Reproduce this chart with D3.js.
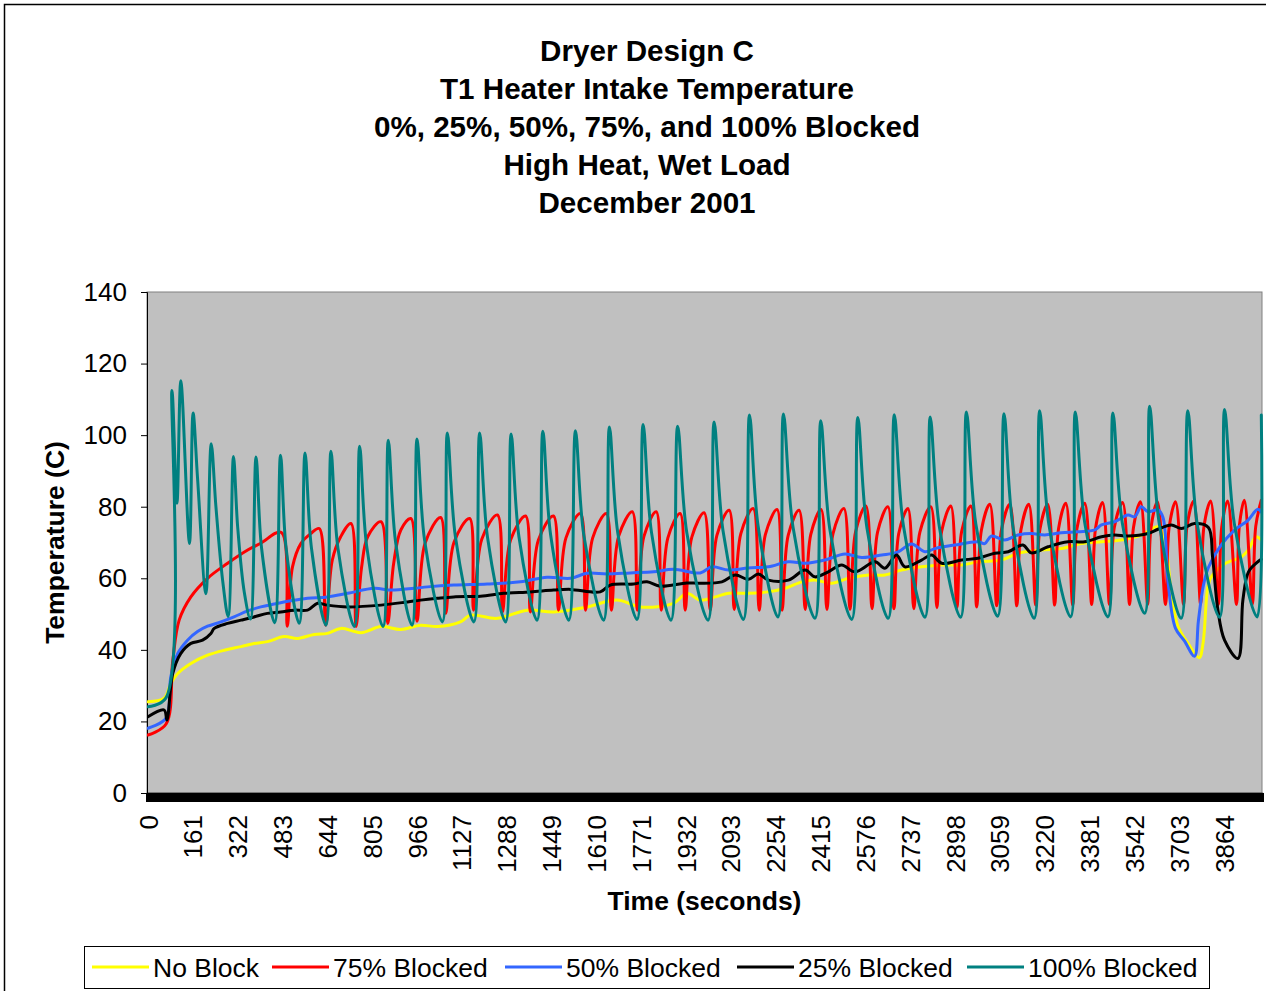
<!DOCTYPE html>
<html><head><meta charset="utf-8">
<script src="https://cdn.jsdelivr.net/npm/d3@7"></script>
<style>
body{margin:0;background:#fff}
svg{display:block}
text{font-family:"Liberation Sans",Arial,Helvetica,sans-serif;fill:#000}
</style>
</head><body>
<svg id="chart" width="1266" height="991"></svg>
<script>
// ---------- data ----------
const titleLines = ["Dryer Design C","T1 Heater Intake Temperature","0%, 25%, 50%, 75%, and 100% Blocked","High Heat, Wet Load","December 2001"];
const xTitle = "Time (seconds)";
const yTitle = "Temperature (C)";
const yTicks = [0,20,40,60,80,100,120,140];
const xTickLabels = [0,161,322,483,644,805,966,1127,1288,1449,1610,1771,1932,2093,2254,2415,2576,2737,2898,3059,3220,3381,3542,3703,3864];
const sampleStep = 7;      // seconds per category
const lastTime = 3997;
const seriesNames = ["No Block","75% Blocked","50% Blocked","25% Blocked","100% Blocked"];
const seriesColors = ["#FFFF00","#FF0000","#3366FF","#000000","#008080"];

// [time (s), temperature (C)]
const noBlock = [[0,25.5],[58,26.5],[82,30.6],[107,33.4],[154,36.2],[214,38.5],[274,39.9],[334,40.9],[381,41.8],[429,42.3],[489,43.7],[537,43.2],[597,44.3],[644,44.6],[693,46],[765,44.8],[837,46.5],[908,45.7],[979,46.9],[1039,46.5],[1122,47.8],[1158,49.7],[1254,48.8],[1362,51.1],[1457,50.6],[1577,52],[1684,53.9],[1768,52],[1887,53],[1935,55.8],[1983,53.9],[2037,54.8],[2085,55.8],[2156,55.8],[2228,56.2],[2288,57.2],[2348,59],[2395,59.5],[2455,58.6],[2515,60],[2587,60.9],[2646,60.9],[2706,62.3],[2778,63.2],[2850,63.7],[2922,63.7],[2981,64.6],[3065,65.1],[3124,67],[3208,67.9],[3280,68.3],[3352,69.7],[3424,70.2],[3495,70.7],[3567,72.1],[3627,74.4],[3651,70.7],[3675,55.8],[3699,46.5],[3735,41.8],[3775,37.8],[3789,42],[3806,57.6],[3819,60.5],[3866,64],[3927,66],[3952,68],[3979,71.6],[3998,70.7]];

const blocked75 = [[0,16.2],[65,19.3],[89,37],[112,48.3],[154,54.8],[214,60],[286,64.2],[358,67.9],[405,69.8],[479,72.8],[500,46.6],[519,63.2],[549,69.7],[585,72.5],[615,73.9],[638,46.9],[662,65.1],[692,71.6],[729,75.3],[747,46.5],[767,63],[789,71.6],[837,75.8],[861,47.4],[882,64],[908,73.5],[944,76.7],[966,48],[995,69.8],[1051,77],[1069,50.2],[1099,70.1],[1155,76.7],[1169,51.1],[1199,71],[1255,77.7],[1273,50.6],[1302,70.7],[1356,77.4],[1373,50.6],[1402,70.7],[1456,77.4],[1474,51.1],[1501,71.3],[1553,78.1],[1571,51.1],[1597,71.3],[1646,78.1],[1664,51.1],[1690,71.7],[1739,78.6],[1757,51.1],[1781,71.7],[1825,78.6],[1843,51.1],[1867,71.3],[1911,78.1],[1929,51.1],[1953,71.5],[1997,78.3],[2019,51.1],[2043,72],[2087,79],[2105,51.3],[2129,72.5],[2173,79.5],[2195,51.1],[2217,72.2],[2259,79.2],[2277,51.1],[2299,72],[2338,79],[2360,51.3],[2380,72.2],[2417,79.2],[2438,51.3],[2460,72.5],[2499,79.5],[2521,51.3],[2541,73],[2578,80.2],[2600,51.5],[2620,72.9],[2657,80],[2679,51.5],[2696,72.5],[2729,79.5],[2750,51.5],[2772,72.9],[2811,80],[2833,51.8],[2850,73.1],[2883,80.2],[2905,51.8],[2922,73.1],[2955,80.2],[2976,52],[2993,73.5],[3023,80.7],[3048,52.3],[3065,73.6],[3095,80.7],[3120,52.3],[3135,73.6],[3163,80.7],[3188,52.5],[3203,73.7],[3231,80.7],[3256,52.5],[3270,73.9],[3296,81],[3321,52.5],[3336,73.9],[3364,81],[3389,52.7],[3403,74.1],[3428,81.2],[3453,52.7],[3470,74.1],[3500,81.2],[3525,52.7],[3539,74.2],[3564,81.4],[3590,52.7],[3602,74.2],[3625,81.4],[3654,52.7],[3667,74.2],[3690,81.4],[3719,52.7],[3731,74.4],[3755,81.6],[3780,52.7],[3792,74.4],[3816,81.6],[3844,52.7],[3856,74.4],[3877,81.6],[3909,52.7],[3919,74.5],[3937,81.8],[3966,52.7],[3978,74.5],[3998,81.8]];

const blocked50 = [[0,18.1],[65,20.9],[82,32.5],[107,39],[142,42.7],[178,45.1],[214,46.6],[262,47.8],[309,49.2],[358,50.9],[405,52],[453,52.8],[513,53.7],[573,54.4],[644,54.8],[717,55.8],[813,57.2],[872,56.7],[956,57.2],[1004,57.6],[1098,58.1],[1218,58.4],[1338,59],[1433,60.3],[1517,60],[1577,61.4],[1649,61.2],[1732,61.5],[1816,61.8],[1887,62.5],[1983,61.5],[2025,63.2],[2085,62.3],[2156,62.9],[2228,63.2],[2300,64.6],[2360,64.2],[2431,65.1],[2503,66.8],[2563,65.8],[2635,66.5],[2694,67.4],[2742,69.6],[2790,67.4],[2826,68.3],[2897,69.3],[2981,70.2],[3005,69.7],[3029,71.8],[3077,70.7],[3124,72.1],[3172,72.5],[3220,72.1],[3280,72.7],[3340,73],[3400,73.5],[3424,74.9],[3471,75.8],[3519,77.7],[3543,77.2],[3567,80],[3591,78.6],[3627,79.1],[3645,77],[3663,59],[3690,46],[3722,42.5],[3758,38.2],[3772,48],[3790,58],[3808,63],[3851,69],[3901,73.4],[3950,76.2],[3985,79.3],[3998,78.5]];

const blocked25 = [[0,21.3],[58,23.2],[68,20.4],[89,33.4],[118,39],[154,41.8],[196,42.7],[226,44.6],[238,46],[286,47.4],[334,48.3],[381,49.2],[429,50.2],[477,50.6],[525,51.1],[573,51.1],[609,53],[644,52.5],[717,52],[837,52.5],[932,53.4],[979,53.9],[1039,54.4],[1098,54.8],[1194,55],[1278,55.8],[1373,56.2],[1457,56.7],[1517,56.9],[1624,56.2],[1660,58.1],[1744,58.4],[1792,59],[1840,57.8],[1935,58.7],[1983,58.6],[2061,59],[2109,60.9],[2156,59.7],[2192,61.2],[2228,59.5],[2300,59.5],[2360,62.3],[2395,60.4],[2443,61.8],[2491,63.7],[2539,61.8],[2611,64.6],[2646,62.8],[2688,66.5],[2718,63.2],[2778,65.1],[2814,66.5],[2850,64.2],[2922,65.1],[2981,65.6],[3041,67],[3089,67.4],[3142,69.3],[3172,67.1],[3232,68.8],[3304,70.2],[3364,70.2],[3424,71.6],[3471,72.1],[3519,71.8],[3591,72.5],[3627,73.7],[3675,74.9],[3711,73.9],[3758,75.3],[3808,74.2],[3823,66],[3842,51.2],[3866,42.7],[3914,37.6],[3932,54],[3952,61.8],[3984,64.5],[3998,65.3]];

const blocked100 = [[0,24.1],[64,26.5],[86,112.5],[104,81],[118,115.2],[149,69.7],[162,106.2],[178,88],[208,55.7],[227,97.6],[244,80],[268,59.5],[288,49.3],[307,94],[322,74.4],[346,56],[368,48.6],[388,93.9],[408,68.4],[455,47.6],[476,94.4],[496,68.5],[543,47.4],[564,95],[587,68.5],[639,46.9],[657,95.5],[682,68.5],[741,46.5],[760,96.9],[785,69.2],[844,46.5],[863,98.6],[889,70.2],[948,46.9],[966,98.9],[993,70.8],[1057,47.8],[1075,100.6],[1104,71.6],[1170,47.8],[1191,100.6],[1219,71.6],[1284,47.8],[1304,100.3],[1332,71.7],[1397,48.3],[1418,101.1],[1446,72.1],[1511,48.3],[1535,101.2],[1565,72.1],[1636,48.3],[1657,102.3],[1687,72.7],[1756,48.5],[1778,103],[1808,72.9],[1878,48.3],[1902,102.5],[1935,72.7],[2011,48.3],[2033,103.7],[2065,73.3],[2138,48.5],[2160,105.6],[2191,74.6],[2262,49.2],[2282,105.9],[2316,74.5],[2395,48.8],[2416,104],[2449,73.5],[2527,48.5],[2549,104.9],[2582,74],[2658,48.8],[2680,105.7],[2713,74.6],[2790,49.1],[2809,105.1],[2842,74.3],[2918,49.1],[2939,106.5],[2973,75.1],[3051,49.4],[3074,106],[3106,74.5],[3182,48.8],[3202,106.8],[3235,75.1],[3313,49.2],[3330,106.5],[3365,75],[3447,49.2],[3465,106.2],[3499,75.4],[3579,50.2],[3597,108.1],[3631,75.5],[3710,48.8],[3734,106.8],[3768,75.1],[3848,49.1],[3866,107.2],[3901,75.3],[3983,49.2],[3998,105.6]];

const seriesData = [noBlock, blocked75, blocked50, blocked25, blocked100];

// ---------- layout ----------
const plot = {left:147, top:292, right:1262, bottom:793};
const svg = d3.select("#chart");

svg.append("rect").attr("x",4.5).attr("y",4.5).attr("width",1400).attr("height",1200)
  .attr("fill","#fff").attr("stroke","#000").attr("stroke-width",1.5);

const x = d3.scaleLinear().domain([-sampleStep/2, lastTime + sampleStep/2]).range([plot.left, plot.right]);
const y = d3.scaleLinear().domain([0,140]).range([plot.bottom, plot.top]);

// title
svg.append("g").selectAll("text").data(titleLines).join("text")
  .attr("x",647).attr("y",(d,i)=>60.5 + i*38)
  .attr("text-anchor","middle").attr("font-size","29.6px").attr("font-weight","bold")
  .text(d=>d);

// plot area
svg.append("rect").attr("x",plot.left).attr("y",plot.top)
  .attr("width",plot.right-plot.left).attr("height",plot.bottom-plot.top)
  .attr("fill","#C0C0C0").attr("stroke","#808080").attr("stroke-width",1);

// y axis
const yAxis = svg.append("g").attr("transform",`translate(${plot.left},0)`)
  .call(d3.axisLeft(y).tickValues(yTicks).tickSize(6).tickPadding(14));
yAxis.selectAll("text").attr("font-size","26px").attr("font-family",'"Liberation Sans",Arial,sans-serif');
yAxis.selectAll("line,path").attr("stroke","#000");

// x axis: dense category tick marks
const boundaries = d3.range(0, Math.round((lastTime + sampleStep)/sampleStep) + 1).map(k => -sampleStep/2 + k*sampleStep);
const xBand = svg.append("g").attr("transform",`translate(0,${plot.bottom})`)
  .call(d3.axisBottom(x).tickValues(boundaries).tickSize(9).tickFormat(""));
xBand.selectAll("line").attr("stroke","#000").attr("stroke-width",3);
xBand.select(".domain").attr("stroke","#000").attr("stroke-width",1.5);

// x axis labels
const xLab = svg.append("g").attr("transform",`translate(0,${plot.bottom})`)
  .call(d3.axisBottom(x).tickValues(xTickLabels).tickSize(0).tickFormat(d=>String(d)));
xLab.select(".domain").remove();
xLab.selectAll("text")
  .attr("font-size","26px").attr("font-family",'"Liberation Sans",Arial,sans-serif')
  .attr("transform","rotate(-90)").attr("text-anchor","end")
  .attr("x",-22).attr("y",0).attr("dy","0.35em");

// axis titles
svg.append("text").attr("x",(plot.left+plot.right)/2).attr("y",909.5)
  .attr("text-anchor","middle").attr("font-size","26.5px").attr("font-weight","bold").text(xTitle);
svg.append("text").attr("transform",`translate(64,${(plot.top+plot.bottom)/2}) rotate(-90)`)
  .attr("text-anchor","middle").attr("font-size","26.5px").attr("font-weight","bold").text(yTitle);

// series
const clip = svg.append("clipPath").attr("id","pc").append("rect")
  .attr("x",plot.left).attr("y",plot.top).attr("width",plot.right-plot.left+2).attr("height",plot.bottom-plot.top);
const line = d3.line().x(d=>x(d[0])).y(d=>y(d[1])).curve(d3.curveCatmullRom.alpha(0.5));
svg.append("g").attr("clip-path","url(#pc)").selectAll("path").data(seriesData).join("path")
  .attr("d",line).attr("fill","none")
  .attr("stroke",(d,i)=>seriesColors[i]).attr("stroke-width",3)
  .attr("stroke-linejoin","round").attr("stroke-linecap","round");

// legend
const legendX = [92, 272, 505, 737, 967];
svg.append("rect").attr("x",84.5).attr("y",946.5).attr("width",1125).attr("height",42)
  .attr("fill","#fff").attr("stroke","#000").attr("stroke-width",1);
const leg = svg.append("g").selectAll("g").data(seriesNames).join("g")
  .attr("transform",(d,i)=>`translate(${legendX[i]},967)`);
leg.append("line").attr("x1",0).attr("x2",57).attr("y1",0).attr("y2",0)
  .attr("stroke",(d,i)=>seriesColors[i]).attr("stroke-width",3);
leg.append("text").attr("x",61).attr("y",9.5).attr("font-size","26.5px").text(d=>d);
</script>
</body></html>
